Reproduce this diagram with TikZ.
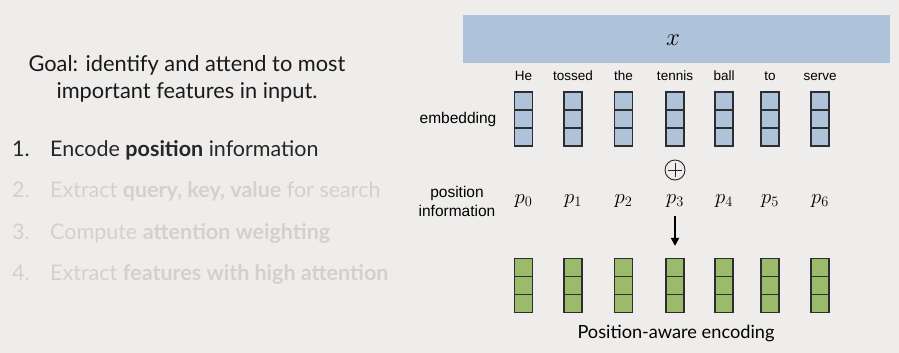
\documentclass[tikz,border=0pt]{standalone}
\usepackage{amsmath}
\usepackage{fontspec}
\setmainfont{Lato}
\newfontfamily\labelfont{Liberation Sans}
\usetikzlibrary{arrows.meta}

\definecolor{slidebg}{HTML}{EFEDEB}
\definecolor{embblue}{HTML}{AEC3DA}
\definecolor{encgreen}{HTML}{9BBB6A}
\definecolor{cellline}{HTML}{2E2E2E}
\definecolor{dimtext}{HTML}{D3D1D0}

\tikzset{
  column/.style={draw=cellline, line width=1.1pt, minimum width=18pt,
    minimum height=54pt, inner sep=0pt},
  word/.style={font=\labelfont\fontsize{13.5}{14}\selectfont, inner sep=0pt},
  sidelabel/.style={font=\labelfont\fontsize{15.5}{19}\selectfont, align=center, inner sep=0pt},
  posvec/.style={font=\fontsize{20.74}{21}\selectfont, inner sep=1pt},
  item/.style={anchor=base west, inner sep=0pt, font=\fontsize{21.5}{22}\selectfont},
}

\begin{document}
\begin{tikzpicture}[x=1pt, y=-1pt]
  \fill[slidebg] (0,0) rectangle (899,353);

  % left: goal and the four steps
  \node[align=center, inner sep=0pt, font=\fontsize{21.8}{27}\selectfont, text=black!90]
    (goal) at (187,79) {Goal: identify and attend to most\\important features in input.};
  \node[item, text=black!85] (n1) at (12,156) {1.};
  \node[item, text=black!85] (s1) at (50,156) {Encode \textbf{position} information};
  \foreach \n/\txt/\by [count=\k from 2] in {
      2./{Extract \textbf{query, key, value} for search}/197.5,
      3./{Compute \textbf{attention weighting}}/239,
      4./{Extract \textbf{features with high attention}}/280} {
    \node[item, text=dimtext] (n\k) at (12,\by) {\n};
    \node[item, text=dimtext] (s\k) at (50,\by) {\txt};
  }

  % input bar
  \node[fill=embblue, minimum width=427pt, minimum height=48pt, inner sep=0pt]
    (bar) at (676.5,39) {};
  \node[font=\fontsize{24.88}{25}\selectfont] (xin) at (673,40) {$x$};

  % row labels
  \node[sidelabel] (emblabel) at (458,119) {embedding};
  \node[sidelabel] (poslabel) at (457,201) {position\\information};

  % tokens, embeddings, positions and encodings
  \foreach \w/\px [count=\i from 0] in {He/523.5, tossed/573, the/623.5,
      tennis/675, ball/724, to/770, serve/820} {
    \node[word, anchor=base] (w\i) at (\px,81) {\w};
    \node[column, fill=embblue] (emb\i) at (\px,119) {};
    \node[column, fill=encgreen] (enc\i) at (\px,285.5) {};
    \foreach \c in {emb,enc} {
      \draw[cellline, line width=1.1pt] ([yshift=9pt]\c\i.west) -- ([yshift=9pt]\c\i.east);
      \draw[cellline, line width=1.1pt] ([yshift=-9pt]\c\i.west) -- ([yshift=-9pt]\c\i.east);
    }
    \node[posvec] (pos\i) at (\px,201) {$p_{\i}$};
  }

  % add position to embedding
  \node[circle, draw=black!85, line width=0.9pt, minimum size=20pt, inner sep=0pt]
    (plus) at (675,170) {};
  \draw[black!85, line width=0.9pt, shorten <=3pt, shorten >=3pt] (plus.north) -- (plus.south);
  \draw[black!85, line width=0.9pt, shorten <=3pt, shorten >=3pt] (plus.west) -- (plus.east);

  \draw[line width=1.8pt, -{Triangle[length=8pt, width=8pt]}]
    ([yshift=-15pt]pos3.center) -- ([yshift=12pt]enc3.north);

  \node[font=\fontsize{18.2}{19}\selectfont, inner sep=0pt] (enclabel) at (676,333)
    {Position-aware encoding};
\end{tikzpicture}
\end{document}
